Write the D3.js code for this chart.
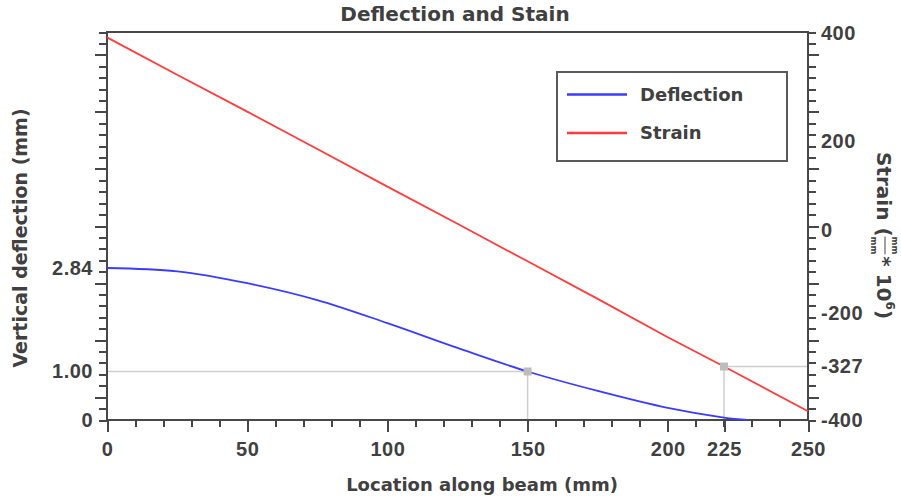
<!DOCTYPE html>
<html>
<head>
<meta charset="utf-8">
<title>Deflection and Stain</title>
<style>
body { margin: 0; background: #fff; }
svg { display: block; font-family: "DejaVu Sans", sans-serif; font-weight: bold; }
text { fill: #404040; }
.frame, .ticks line, .labels line { stroke: #474747; stroke-width: 2; fill: none; shape-rendering: crispEdges; }
.guide { stroke: #cfcfcf; stroke-width: 1.5; fill: none; }
.marker { fill: #bdbdbd; }
.curve { fill: none; stroke-width: 1.8; }
.labels text { font-size: 20px; letter-spacing: 0.5px; }
</style>
</head>
<body>
<svg width="901" height="499"></svg>
<script src="https://cdn.jsdelivr.net/npm/d3@7/dist/d3.min.js"></script>
<script>
// location along the beam (mm)
var deflX = [0, 25, 50, 75, 100, 125, 150, 175, 200, 225, 232];
// vertical deflection (mm)
var deflection = [2.84, 2.78, 2.57, 2.27, 1.86, 1.42, 1.00, 0.60, 0.25, 0.05, 0];
var strainX = [0, 25, 50, 75, 100, 125, 150, 175, 200, 225, 250];
// strain (mm/mm * 10^6)
var strain = [392, 323, 255, 183, 98, 14, -75, -165, -257, -327, -388];

var xTicks = [0, 50, 100, 150, 200, 225, 250];
var deflTicks = [0, 1.00, 2.84];
var deflLabels = ["0", "1.00", "2.84"];
var strainTicks = [400, 200, 0, -200, -327, -400];

// the two read-off points
var deflMarkX = 150, deflMarkY = 1.00;
var strainMarkX = 225, strainMarkY = -327;

var seriesNames = ["Deflection", "Strain"];
var seriesColors = ["#3b3bff", "#ff3b3b"];

var svg = d3.select("svg");
var plotL = 107, plotR = 808, plotT = 32, plotB = 420;

// the axes in the picture are not evenly labelled, so the scales are piecewise
var x = d3.scaleLinear().domain([0, 200, 225, 250]).range([plotL, 667.8, 724, plotR]);
var yDefl = d3.scaleLinear().domain([0, 1, 2.84, 7]).range([plotB, 371.5, 268, plotT]);
var yStrain = d3.scaleLinear().domain([-400, -327, -200, 0, 200, 400]).range([plotB, 366.5, 313.5, 230, 141.5, 33]);

// evenly spaced minor ticks of the frame
var xMinor = d3.scaleLinear().domain([0, 250]).range([plotL, plotR]);
var yMinor = d3.scaleLinear().domain([0, 34]).range([plotB, plotT]);

// title
svg.append("text")
    .attr("x", 455).attr("y", 21)
    .attr("text-anchor", "middle")
    .style("font-size", "20px")
    .text("Deflection and Stain");

// guides to the read-off points
svg.append("path").attr("class", "guide")
    .attr("d", "M" + plotL + "," + yDefl(deflMarkY) + "H" + x(deflMarkX) + "V" + plotB);
svg.append("path").attr("class", "guide")
    .attr("d", "M" + plotR + "," + yStrain(strainMarkY) + "H" + x(strainMarkX) + "V" + plotB);

// frame ticks
svg.append("g").attr("class", "ticks")
    .attr("transform", "translate(" + plotL + ",0)")
    .call(d3.axisLeft(yMinor).tickValues(d3.range(0, 35)).tickFormat("").tickSizeOuter(0))
    .call(function(g) { g.select(".domain").remove(); })
  .selectAll(".tick line")
    .attr("x2", function(d) { return d % 5 === 2 ? -12 : -8; });

svg.append("g").attr("class", "ticks")
    .attr("transform", "translate(" + plotR + ",0)")
    .call(d3.axisRight(yMinor).tickValues(d3.range(0, 35)).tickFormat("").tickSizeOuter(0))
    .call(function(g) { g.select(".domain").remove(); })
  .selectAll(".tick line")
    .attr("x2", function(d) { return d % 5 === 2 ? 11 : 8; });

svg.append("g").attr("class", "ticks")
    .attr("transform", "translate(0," + plotB + ")")
    .call(d3.axisBottom(xMinor).tickValues(d3.range(0, 251, 10)).tickFormat("").tickSize(7).tickSizeOuter(0))
    .call(function(g) { g.select(".domain").remove(); });

// labelled axes
svg.append("g").attr("class", "labels")
    .attr("transform", "translate(0," + plotB + ")")
    .call(d3.axisBottom(x).tickValues(xTicks).tickSize(12).tickPadding(10).tickSizeOuter(0))
    .call(function(g) { g.select(".domain").remove(); })
  .selectAll("text")
    .attr("fill", null);

svg.append("g").attr("class", "labels")
    .attr("transform", "translate(" + plotL + ",0)")
    .call(d3.axisLeft(yDefl).tickValues(deflTicks).tickSize(0).tickPadding(14)
      .tickFormat(function(d, i) { return deflLabels[i]; }))
    .call(function(g) { g.select(".domain").remove(); })
  .selectAll("text")
    .attr("fill", null);

svg.append("g").attr("class", "labels")
    .attr("transform", "translate(" + plotR + ",0)")
    .call(d3.axisRight(yStrain).tickValues(strainTicks).tickSize(0).tickPadding(13)
      .tickFormat(function(d) { return String(d); }))
    .call(function(g) { g.select(".domain").remove(); })
  .selectAll("text")
    .attr("fill", null);

// frame
svg.append("rect").attr("class", "frame")
    .attr("x", plotL).attr("y", plotT)
    .attr("width", plotR - plotL).attr("height", plotB - plotT);

// curves
var deflLine = d3.line()
    .x(function(d, i) { return x(deflX[i]); })
    .y(function(d) { return yDefl(d); })
    .curve(d3.curveCatmullRom.alpha(0.5));
var strainLine = d3.line()
    .x(function(d, i) { return x(strainX[i]); })
    .y(function(d) { return yStrain(d); });

svg.append("path").attr("class", "curve")
    .attr("stroke", seriesColors[1])
    .attr("d", strainLine(strain));
svg.append("path").attr("class", "curve")
    .attr("stroke", seriesColors[0])
    .attr("d", deflLine(deflection));

// markers
svg.append("rect").attr("class", "marker")
    .attr("x", x(deflMarkX) - 4).attr("y", yDefl(deflMarkY) - 4)
    .attr("width", 8).attr("height", 8);
svg.append("rect").attr("class", "marker")
    .attr("x", x(strainMarkX) - 4).attr("y", yStrain(strainMarkY) - 4)
    .attr("width", 8).attr("height", 8);

// axis titles
svg.append("text")
    .attr("transform", "translate(27,238) rotate(-90)")
    .attr("text-anchor", "middle")
    .style("font-size", "19px")
    .text("Vertical deflection (mm)");

svg.append("text")
    .attr("x", 482).attr("y", 491)
    .attr("text-anchor", "middle")
    .style("font-size", "18px")
    .text("Location along beam (mm)");

// right title: Strain (mm/mm * 10^6), set piece by piece
var rt = svg.append("g").attr("transform", "translate(877,152) rotate(90)");
var cursor = 0;
function piece(str, size, dy) {
  var t = rt.append("text").attr("x", cursor).attr("y", dy).style("font-size", size + "px").text(str);
  return t.node().getComputedTextLength();
}
cursor += piece("Strain (", 20, 0);
var fracW = piece("mm", 8.5, -15);
piece("mm", 8.5, 6);
rt.append("line")
    .attr("x1", cursor).attr("x2", cursor + fracW)
    .attr("y1", -8).attr("y2", -8)
    .attr("stroke", "#404040").attr("stroke-width", 1);
cursor += fracW + 2;
cursor += piece("* 10", 20, 0);
cursor += piece("6", 12, -9);
piece(")", 20, 0);

// legend
var legend = svg.append("g").attr("transform", "translate(557,72)");
legend.append("rect")
    .attr("width", 230).attr("height", 89)
    .attr("fill", "#fff").attr("stroke", "#5a5a5a").attr("stroke-width", 2);
var item = legend.selectAll(".item")
    .data(seriesNames)
  .enter().append("g")
    .attr("transform", function(d, i) { return "translate(0," + (22.5 + i * 38.5) + ")"; });
item.append("line")
    .attr("x1", 10).attr("x2", 70)
    .attr("stroke", function(d, i) { return seriesColors[i]; })
    .attr("stroke-width", 2.5);
item.append("text")
    .attr("x", 83).attr("dy", "0.35em")
    .style("font-size", "18px")
    .text(function(d) { return d; });
</script>
</body>
</html>
